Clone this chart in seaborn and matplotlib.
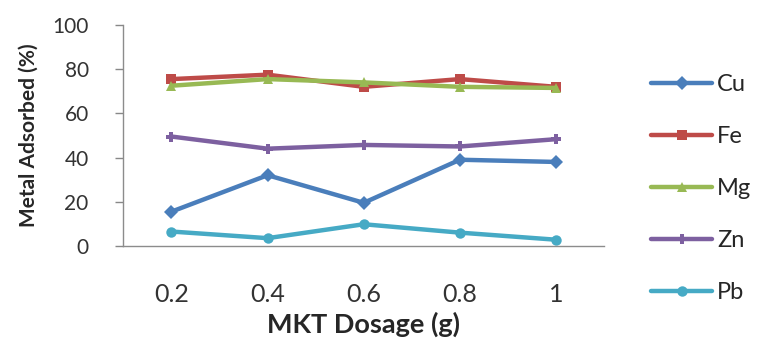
import numpy as np
import pandas as pd
import matplotlib
matplotlib.use('Agg')
import matplotlib.pyplot as plt
import seaborn as sns

## Data
dosage = ['0.2', '0.4', '0.6', '0.8', '1']
metals = ['Cu', 'Fe', 'Mg', 'Zn', 'Pb']
cu = [15.5, 32.0, 19.5, 39.0, 38.0]
fe = [75.5, 77.5, 72.0, 75.5, 72.0]
mg = [72.5, 75.5, 74.0, 72.0, 71.5]
zn = [49.5, 44.0, 45.7, 45.0, 48.3]
pb = [6.5, 3.5, 9.8, 6.0, 2.8]

# Long-form table for seaborn
df = pd.DataFrame({
    'dosage': dosage * 5,
    'metal': np.repeat(metals, len(dosage)),
    'adsorbed': cu + fe + mg + zn + pb,
})

## Styling
colors = {'Cu': '#4A7EBB', 'Fe': '#BE4B48', 'Mg': '#98B954', 'Zn': '#7D60A0', 'Pb': '#46AAC5'}
markers = {'Cu': 'D', 'Fe': 's', 'Mg': '^', 'Zn': 'P', 'Pb': 'o'}

sns.set_theme(style='white')
plt.rcParams['font.family'] = ['Lato', 'DejaVu Sans']

fig = plt.figure(figsize=(7.57, 3.42), dpi=100)
ax = fig.add_axes([0.163, 0.281, 0.635, 0.646])

sns.lineplot(data=df, x='dosage', y='adsorbed', hue='metal', style='metal',
             palette=colors, markers=markers, dashes=False, sort=False,
             linewidth=3.2, markersize=7.5, markeredgewidth=0, ax=ax)

# Axes limits and ticks
ax.set_xlim(-0.5, 4.5)
ax.set_ylim(0, 100)
ax.set_yticks(range(0, 101, 20))
ax.tick_params(axis='y', left=True, length=6, width=1, color='#888888',
               labelsize=15, pad=19, labelcolor='#333333')
ax.tick_params(axis='x', bottom=False, labelsize=18, pad=21, labelcolor='#333333')

for side in ['top', 'right']:
    ax.spines[side].set_visible(False)
for side in ['left', 'bottom']:
    ax.spines[side].set_color('#8c8c8c')
    ax.spines[side].set_linewidth(1)

ax.set_xlabel('MKT Dosage (g)', fontsize=19.5, fontweight='bold', labelpad=4)
ax.set_ylabel('Metal Adsorbed (%)', fontsize=15, fontweight='bold', labelpad=10)

# Legend on the right
handles, labels = ax.get_legend_handles_labels()
ax.legend(handles=handles, labels=labels, loc='upper left', bbox_to_anchor=(1.053, 0.875),
          frameon=False, fontsize=17, labelspacing=1.32, handlelength=2.6, handletextpad=0.2)

plt.savefig('out.png', dpi=100)
